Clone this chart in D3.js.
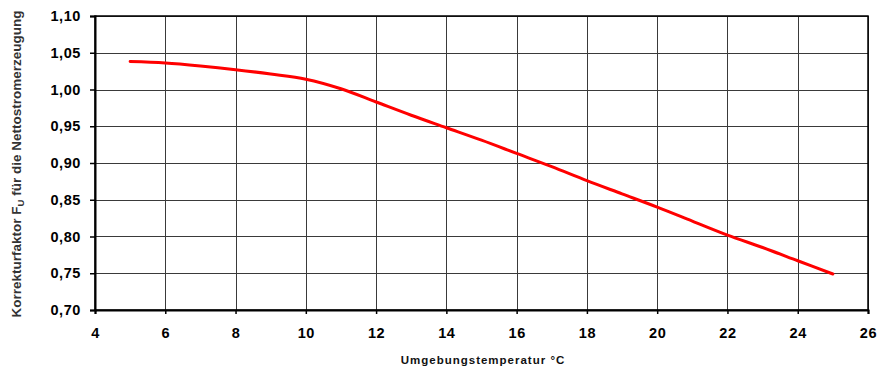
<!DOCTYPE html>
<html>
<head>
<meta charset="utf-8">
<script src="https://cdn.jsdelivr.net/npm/d3@7"></script>
<style>
  body { margin: 0; background: #fff; }
  svg text { font-family: "Liberation Sans", Arial, sans-serif; }
</style>
</head>
<body>
<div id="chart"></div>
<script>
// temperature (°C) and correction factor
var temps = [5, 6, 7, 8, 9, 10, 11, 12, 13, 14, 15, 16, 17, 18, 19, 20, 21, 22, 23, 24, 25];
var factors = [1.038, 1.036, 1.032, 1.027, 1.021, 1.014, 1.001, 0.983, 0.965, 0.948, 0.931,
  0.913, 0.895, 0.876, 0.858, 0.840, 0.821, 0.802, 0.785, 0.767, 0.749];
var xTicks = [4, 6, 8, 10, 12, 14, 16, 18, 20, 22, 24, 26];
var yTicks = [0.70, 0.75, 0.80, 0.85, 0.90, 0.95, 1.00, 1.05, 1.10];

var margin = { top: 16, right: 9, bottom: 57, left: 95 };
var svgWidth = 877, svgHeight = 367;
var width = svgWidth - margin.left - margin.right;
var height = svgHeight - margin.top - margin.bottom;

var svg = d3.select("#chart").append("svg")
  .attr("width", svgWidth)
  .attr("height", svgHeight);

var g = svg.append("g")
  .attr("transform", "translate(" + margin.left + "," + margin.top + ")");

var xScale = d3.scaleLinear().domain([4, 26]).range([0, width]);
var yScale = d3.scaleLinear().domain([0.70, 1.10]).range([height, 0]);

var comma = function (d) { return d3.format(".2f")(d).replace(".", ","); };

// grid
g.append("g")
  .selectAll("line")
  .data(xTicks)
  .join("line")
  .attr("x1", (d) => Math.round(xScale(d)) + 0.5)
  .attr("x2", (d) => Math.round(xScale(d)) + 0.5)
  .attr("y1", 0)
  .attr("y2", height)
  .attr("stroke", "#3a3a3a")
  .attr("stroke-width", 1);

g.append("g")
  .selectAll("line")
  .data(yTicks)
  .join("line")
  .attr("x1", 0)
  .attr("x2", width)
  .attr("y1", (d) => Math.round(yScale(d)) + 0.5)
  .attr("y2", (d) => Math.round(yScale(d)) + 0.5)
  .attr("stroke", "#3a3a3a")
  .attr("stroke-width", 1);

// frame
g.append("rect")
  .attr("x", 0)
  .attr("y", 0)
  .attr("width", width)
  .attr("height", height)
  .attr("fill", "none")
  .attr("stroke", "#000")
  .attr("stroke-width", 1.5);

// axes
var xAxis = d3.axisBottom(xScale).tickValues(xTicks).tickSize(4).tickPadding(14)
  .tickFormat(d3.format("d"));
var yAxis = d3.axisLeft(yScale).tickValues(yTicks).tickSize(5).tickPadding(9)
  .tickFormat(comma);

var gx = g.append("g")
  .attr("transform", "translate(0," + height + ")")
  .call(xAxis);
var gy = g.append("g").call(yAxis);

[gx, gy].forEach(function (ax) {
  ax.select(".domain").attr("stroke", "#000").attr("stroke-width", 2);
  ax.selectAll(".tick line").attr("stroke", "#000").attr("stroke-width", 1.5);
  ax.selectAll(".tick text")
    .attr("fill", "#000")
    .style("font-size", "14.5px")
    .style("font-weight", "bold")
    .style("letter-spacing", "0.6px");
});

// curve
g.append("path")
  .datum(d3.zip(temps, factors))
  .attr("d", d3.line()
    .x((d) => xScale(d[0]))
    .y((d) => yScale(d[1]))
    .curve(d3.curveCatmullRom))
  .attr("fill", "none")
  .attr("stroke", "#ff0000")
  .attr("stroke-width", 3)
  .attr("stroke-linecap", "round");

// axis titles
svg.append("text")
  .attr("x", 483)
  .attr("y", 364)
  .attr("text-anchor", "middle")
  .style("font-size", "11.5px")
  .style("font-weight", "bold")
  .style("letter-spacing", "1px")
  .attr("fill", "#111")
  .text("Umgebungstemperatur °C");

var yt = svg.append("text")
  .attr("transform", "translate(21," + 164 + ") rotate(-90)")
  .attr("text-anchor", "middle")
  .style("font-size", "13.5px")
  .style("font-weight", "bold")
  .attr("fill", "#333");
yt.append("tspan").text("Korrekturfaktor F");
yt.append("tspan").attr("dy", 3).style("font-size", "9.5px").text("U");
yt.append("tspan").attr("dy", -3).text(" für die Nettostromerzeugung");
</script>
</body>
</html>
